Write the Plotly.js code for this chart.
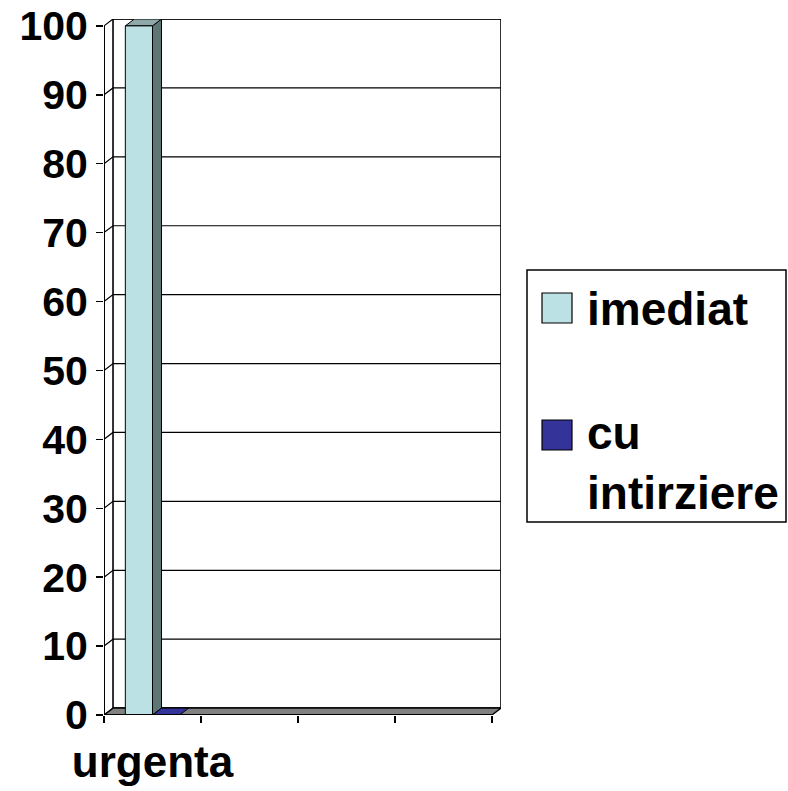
<!DOCTYPE html>
<html>
<head>
<meta charset="utf-8">
<script src="https://cdn.plot.ly/plotly-3.0.1.min.js"></script>
<style>html,body{margin:0;padding:0;background:#fff;}</style>
</head>
<body>
<div id="chart" style="width:788px;height:791px;"></div>
<script>
// ---- data ----
const categories = ['urgenta', ' ', '  ', '   '];
const seriesNames = ['imediat', 'cu<br>intirziere'];
const imediat = [100];
const cuIntirziere = [0];
const yTickVals = [0, 10, 20, 30, 40, 50, 60, 70, 80, 90, 100];
const yMax = 100;

// ---- styling / 3D look ----
const DX = 0.093;   // depth offset in category units
const DY = 1.0;     // depth offset in y units
const BARGAP = 0.44;
const W = (1 - BARGAP) / 2;
const colImediat = {front: '#BCE1E4', side: '#5E7576', top: '#8FA9AB'};
const colCu = {front: '#333399', side: '#1F1F66', top: '#2E2E8C'};
const FAM = 'Liberation Sans, Arial, sans-serif';
const usedCats = [categories[0]];

// plot area in pixels (for placing the legend box)
const M = {l: 104, r: 287, t: 19, b: 76};
const PW = 788 - M.l - M.r, PH = 791 - M.t - M.b;
const px2x = p => (p - M.l) / PW;
const py2y = p => (791 - M.b - p) / PH;

const shapes = [];
const nCat = categories.length;
const left = -0.5, right = nCat - 0.5;

// back wall box
shapes.push({type: 'rect', xref: 'x', yref: 'y', layer: 'below',
  x0: left + DX, x1: right + DX, y0: DY, y1: yMax + DY,
  line: {color: '#000', width: 1.6}, fillcolor: '#fff'});
// gridlines on back wall + connectors to front axis
yTickVals.forEach(v => {
  shapes.push({type: 'path', xref: 'x', yref: 'y', layer: 'below',
    path: `M${left},${v} L${left + DX},${v + DY} L${right + DX},${v + DY}`,
    line: {color: '#000', width: 1.2}});
});
// floor
shapes.push({type: 'path', xref: 'x', yref: 'y', layer: 'below',
  path: `M${left},0 L${right},0 L${right + DX},${DY} L${left + DX},${DY} Z`,
  fillcolor: '#808080', line: {color: '#000', width: 1.3}});

// bar faces (side + top) from the data
function faces(values, startOffset, col) {
  values.forEach((v, i) => {
    const x0 = i + startOffset, x1 = x0 + W;
    if (v > 0) {
      shapes.push({type: 'path', xref: 'x', yref: 'y', layer: 'below',
        path: `M${x1},0 L${x1},${v} L${x1 + DX},${v + DY} L${x1 + DX},${DY} Z`,
        fillcolor: col.side, line: {color: '#000', width: 1}});
    }
    shapes.push({type: 'path', xref: 'x', yref: 'y', layer: 'below',
      path: `M${x0},${v} L${x1},${v} L${x1 + DX},${v + DY} L${x0 + DX},${v + DY} Z`,
      fillcolor: v > 0 ? col.top : col.front, line: {color: '#000', width: 1}});
  });
}
faces(imediat, -W, colImediat);
faces(cuIntirziere, 0, colCu);

// front axes lines
shapes.push({type: 'line', xref: 'x', yref: 'y', layer: 'above',
  x0: left, x1: left, y0: 0, y1: yMax, line: {color: '#000', width: 2}});
shapes.push({type: 'line', xref: 'x', yref: 'y', layer: 'above',
  x0: left, x1: right, y0: 0, y1: 0, line: {color: '#000', width: 2}});

// legend (box, swatches, labels)
shapes.push({type: 'rect', xref: 'paper', yref: 'paper', layer: 'above',
  x0: px2x(527), x1: px2x(786), y0: py2y(522), y1: py2y(270),
  line: {color: '#000', width: 1.5}, fillcolor: '#fff'});
const legendCols = [colImediat.front, colCu.front];
const swatchTops = [293, 420];
const annotations = [];
seriesNames.forEach((name, k) => {
  shapes.push({type: 'rect', xref: 'paper', yref: 'paper', layer: 'above',
    x0: px2x(542), x1: px2x(572), y0: py2y(swatchTops[k] + 30), y1: py2y(swatchTops[k]),
    line: {color: '#000', width: 1.2}, fillcolor: legendCols[k]});
});
annotations.push({xref: 'paper', yref: 'paper', x: px2x(585), y: py2y(308.5),
  xanchor: 'left', yanchor: 'middle', showarrow: false, align: 'left',
  text: seriesNames[0], font: {family: FAM, size: 46, color: '#000', weight: 'bold'}});
annotations.push({xref: 'paper', yref: 'paper', x: px2x(585), y: py2y(463.5),
  xanchor: 'left', yanchor: 'middle', showarrow: false, align: 'left',
  text: seriesNames[1], font: {family: FAM, size: 46, color: '#000', weight: 'bold'}});

const traces = [
  {type: 'bar', name: seriesNames[0], x: usedCats, y: imediat,
   marker: {color: colImediat.front, line: {color: '#000', width: 1}}, hoverinfo: 'none'},
  {type: 'bar', name: seriesNames[1], x: usedCats, y: cuIntirziere,
   marker: {color: colCu.front, line: {color: '#000', width: 1}}, hoverinfo: 'none'}
];

const layout = {
  width: 788, height: 791,
  margin: {l: M.l, r: M.r, t: M.t, b: M.b, pad: 0},
  paper_bgcolor: '#fff', plot_bgcolor: 'rgba(0,0,0,0)',
  barmode: 'group', bargap: BARGAP, bargroupgap: 0,
  font: {family: FAM, size: 40, color: '#000'},
  showlegend: false,
  xaxis: {type: 'category', categoryorder: 'array', categoryarray: categories,
    range: [left, right + DX], autorange: false, fixedrange: true,
    showgrid: false, showline: false, zeroline: false,
    ticks: 'outside', ticklen: 7, tickwidth: 1.5, tickcolor: '#000',
    tickson: 'boundaries', tickangle: 0, ticklabelstandoff: 17,
    tickfont: {family: FAM, size: 44, color: '#000', weight: 'bold'},
    automargin: false},
  yaxis: {range: [0, yMax + DY], autorange: false, fixedrange: true,
    tickmode: 'array', tickvals: yTickVals, ticktext: yTickVals.map(String),
    showgrid: false, showline: false, zeroline: false,
    ticks: 'outside', ticklen: 7, tickwidth: 1.5, tickcolor: '#000',
    ticklabelstandoff: 0,
    tickfont: {family: FAM, size: 41, color: '#000', weight: 'bold'},
    automargin: false},
  shapes: shapes,
  annotations: annotations
};

Plotly.newPlot('chart', traces, layout, {displayModeBar: false, staticPlot: true});
</script>
</body>
</html>
